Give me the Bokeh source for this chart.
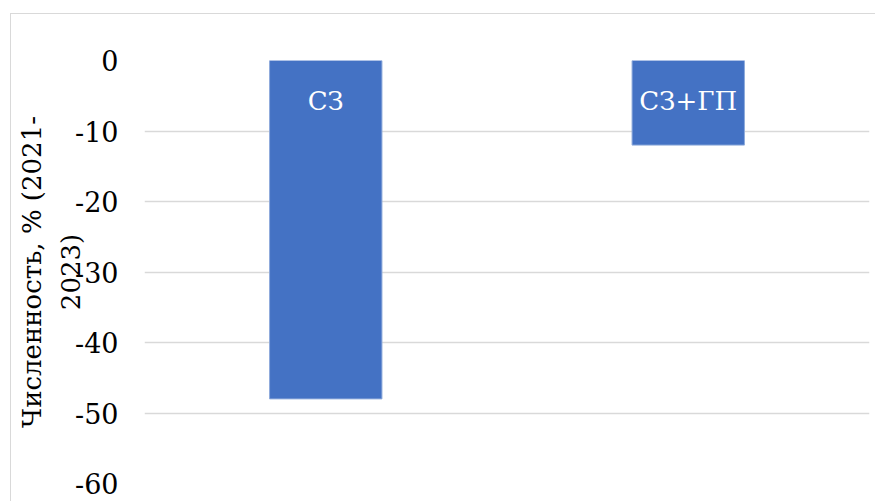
from bokeh.plotting import figure
from bokeh.models import FixedTicker, ColumnDataSource, Range1d, PrintfTickFormatter
from bokeh.core.properties import value
from bokeh.embed import file_html
from bokeh.resources import INLINE

categories = ["СЗ", "СЗ+ГП"]
values = [-48, -12]
base = [0, 0]
y_ticks = [0, -10, -20, -30, -40, -50, -60]
y_title = "Численность, % (2021-\n2023)"

FONT = "DejaVu Serif"

src = ColumnDataSource(dict(cat=categories, val=values, base=base))

p = figure(x_range=categories, y_range=Range1d(-60, 0),
           width=865, height=488, output_backend="svg", toolbar_location=None,
           min_border_left=133, min_border_top=46, min_border_bottom=19,
           min_border_right=7)
p.margin = (13, 0, 0, 10)
p.styles = {"border-left": "1px solid #d9d9d9", "border-top": "1px solid #d9d9d9"}
p.x_range.range_padding = 0
p.outline_line_color = None

p.vbar(x="cat", top="val", bottom="base", width=0.31, source=src,
       fill_color="#4472C4", line_color="#8eaadb", line_width=1)

p.text(x="cat", y="base", text="cat", source=src, y_offset=40,
       text_align="center", text_baseline="middle",
       text_color="white", text_font=value(FONT), text_font_size="26px")

p.xaxis.visible = False
p.xgrid.visible = False
p.yaxis.ticker = FixedTicker(ticks=y_ticks)
p.yaxis.formatter = PrintfTickFormatter(format="%d")
p.yaxis.axis_line_color = None
p.yaxis.major_tick_line_color = None
p.yaxis.minor_tick_line_color = None
p.yaxis.major_label_standoff = 20
p.yaxis.major_label_text_font = FONT
p.yaxis.major_label_text_font_size = "27px"
p.yaxis.major_label_text_color = "#000000"
p.yaxis.axis_label = y_title
p.yaxis.axis_label_standoff = -14
p.yaxis.axis_label_text_font = FONT
p.yaxis.axis_label_text_font_style = "normal"
p.yaxis.axis_label_text_font_size = "26px"
p.yaxis.axis_label_text_color = "#000000"
p.yaxis.axis_label_text_line_height = 1.3
p.ygrid.grid_line_color = "#d9d9d9"
p.ygrid.grid_line_width = 1.5

open("out.html", "w").write(file_html(p, INLINE))
